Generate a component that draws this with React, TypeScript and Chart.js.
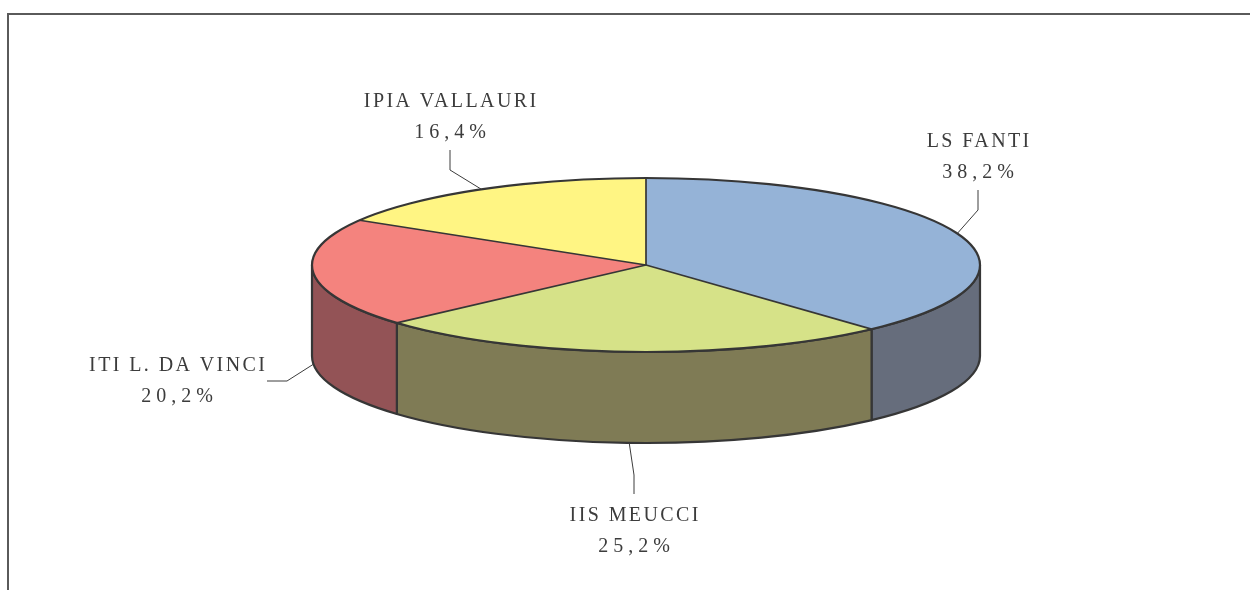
import React, { useEffect, useRef } from "react";
import { Chart, registerables } from "chart.js";

Chart.register(...registerables);

// ---- data ----
const categories = ["LS FANTI", "IIS MEUCCI", "ITI L. DA VINCI", "IPIA VALLAURI"];
const percentages = [38.2, 25.2, 20.2, 16.4];
const topColors = ["#95B3D7", "#D6E288", "#F4837E", "#FFF583"];
const sideColors = ["#666D7C", "#7F7B55", "#935356", "#A9A257"];

// ---- layout (page pixels) ----
const CX = 646;
const CY = 265;
const RX = 334;
const RY = 87;
const DEPTH = 91;
const EDGE = "#363636";
const TEXT = "#3c3c3c";

// label layout: name center x, name baseline, leader bend point, leader end point
const labelLayout = [
  { x: 978, y: 147, bend: [978, 210], end: [978, 190] },
  { x: 634, y: 521, bend: [634, 475], end: [634, 494] },
  { x: 177, y: 371, bend: [287, 381], end: [267, 381] },
  { x: 450, y: 107, bend: [450, 170], end: [450, 150] },
];

const fmt = (v: number) => v.toFixed(1).replace(".", ",") + "%";

const pie3d = {
  id: "pie3d",
  beforeDatasetsDraw(chart: any) {
    const ctx = chart.ctx as CanvasRenderingContext2D;
    const arcs = chart.getDatasetMeta(0).data;
    ctx.save();
    ctx.lineJoin = "round";
    arcs.forEach((arc: any, i: number) => {
      const { startAngle, endAngle } = arc.getProps(["startAngle", "endAngle"], true);
      const a = Math.max(startAngle, 0);
      const b = Math.min(endAngle, Math.PI);
      if (b <= a) return;
      ctx.beginPath();
      ctx.ellipse(CX, CY, RX, RY, 0, a, b);
      ctx.ellipse(CX, CY + DEPTH, RX, RY, 0, b, a, true);
      ctx.closePath();
      ctx.fillStyle = sideColors[i];
      ctx.fill();
      ctx.strokeStyle = EDGE;
      ctx.lineWidth = 2.2;
      ctx.stroke();
    });
    ctx.restore();
    const a0 = arcs[0];
    ctx.save();
    ctx.translate(CX, CY);
    ctx.scale(RX / a0.outerRadius, RY / a0.outerRadius);
    ctx.translate(-a0.x, -a0.y);
  },
  afterDatasetsDraw(chart: any) {
    const ctx = chart.ctx as CanvasRenderingContext2D;
    ctx.restore();
    const arcs = chart.getDatasetMeta(0).data;
    ctx.save();
    ctx.strokeStyle = EDGE;
    ctx.lineJoin = "round";
    ctx.lineWidth = 1.7;
    arcs.forEach((arc: any) => {
      const { startAngle } = arc.getProps(["startAngle"], true);
      ctx.beginPath();
      ctx.moveTo(CX, CY);
      ctx.lineTo(CX + RX * Math.cos(startAngle), CY + RY * Math.sin(startAngle));
      ctx.stroke();
    });
    ctx.lineWidth = 2.2;
    ctx.beginPath();
    ctx.ellipse(CX, CY, RX, RY, 0, 0, Math.PI * 2);
    ctx.stroke();
    ctx.restore();
  },
  afterDraw(chart: any) {
    const ctx = chart.ctx as CanvasRenderingContext2D;
    const arcs = chart.getDatasetMeta(0).data;
    ctx.save();
    arcs.forEach((arc: any, i: number) => {
      const { startAngle, endAngle } = arc.getProps(["startAngle", "endAngle"], true);
      const mid = (startAngle + endAngle) / 2;
      const s = Math.sin(mid);
      const ax = CX + RX * Math.cos(mid);
      const ay = CY + RY * s + (s > 0 ? DEPTH : 0);
      const L = labelLayout[i];
      ctx.strokeStyle = TEXT;
      ctx.lineWidth = 1;
      ctx.beginPath();
      ctx.moveTo(ax, ay);
      ctx.lineTo(L.bend[0], L.bend[1]);
      ctx.lineTo(L.end[0], L.end[1]);
      ctx.stroke();

      ctx.fillStyle = TEXT;
      ctx.font = "20px 'Liberation Serif', serif";
      ctx.textAlign = "center";
      ctx.textBaseline = "alphabetic";
      const ls1 = 2.4;
      (ctx as any).letterSpacing = ls1 + "px";
      ctx.fillText(categories[i], L.x + ls1 / 2, L.y);
      const ls2 = 5;
      (ctx as any).letterSpacing = ls2 + "px";
      ctx.fillText(fmt(percentages[i]), L.x + ls2 / 2, L.y + 31);
      (ctx as any).letterSpacing = "0px";
    });
    ctx.restore();
  },
};

export default function App() {
  const ref = useRef<HTMLCanvasElement | null>(null);
  useEffect(() => {
    if (!ref.current) return;
    const chart = new Chart(ref.current, {
      type: "pie",
      data: {
        labels: categories,
        datasets: [
          {
            data: percentages,
            backgroundColor: topColors,
            borderWidth: 0,
          },
        ],
      },
      options: {
        responsive: false,
        maintainAspectRatio: false,
        animation: false,
        devicePixelRatio: 1,
        events: [],
        layout: { padding: 0 },
        plugins: {
          legend: { display: false },
          tooltip: { enabled: false },
          title: { display: false },
        },
      },
      plugins: [pie3d],
    });
    return () => chart.destroy();
  }, []);

  return (
    <div
      style={{
        position: "fixed",
        left: 0,
        top: 0,
        width: 1250,
        height: 590,
        overflow: "hidden",
        background: "#fff",
      }}
    >
      <div
        style={{
          position: "absolute",
          left: 7,
          top: 13,
          width: 1400,
          height: 700,
          borderTop: "2px solid #5a5a5a",
          borderLeft: "2px solid #5a5a5a",
        }}
      />
      <canvas
        ref={ref}
        width={1250}
        height={590}
        style={{ position: "absolute", left: 0, top: 0, width: 1250, height: 590 }}
      />
    </div>
  );
}
